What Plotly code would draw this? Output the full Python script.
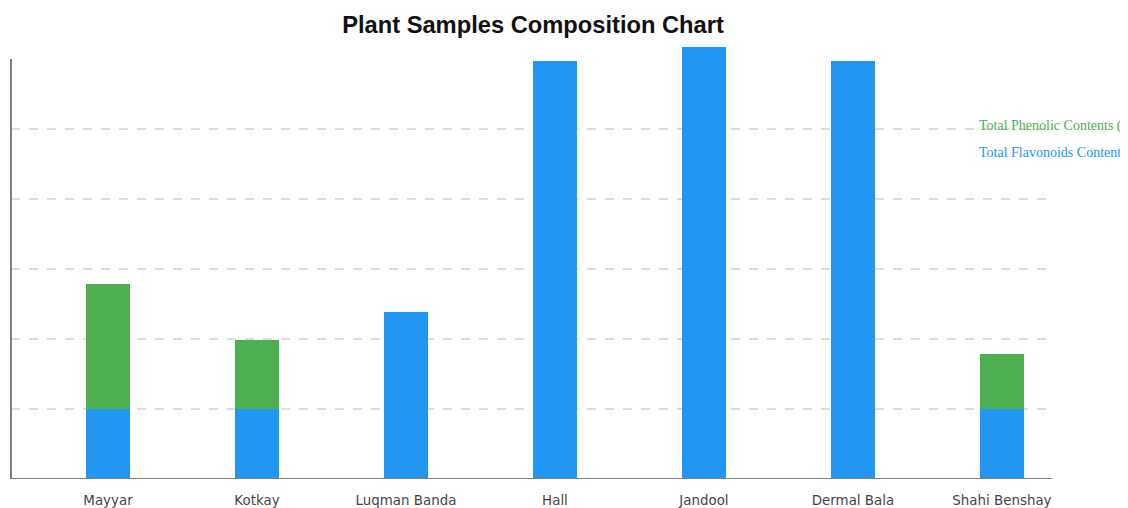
import plotly.graph_objects as go

categories = ["Mayyar", "Kotkay", "Luqman Banda", "Hall", "Jandool", "Dermal Bala", "Shahi Benshay"]
flavonoids = [1.0, 1.0, 2.39, 5.97, 6.17, 5.97, 1.0]
phenolic = [1.79, 0.99, 0, 0, 0, 0, 0.79]
series_names = ["Total Phenolic Contents (mg GAE/g)", "Total Flavonoids Contents (mg QE/g)"]

BLUE = "#2196F3"
GREEN = "#4CAF50"

# the page has an 8px body margin
OFF = 8
W, H = 1128 - OFF, 508 - OFF
L, R, T, B = 11 - OFF, W - (1052 - OFF), 45 - OFF, H - (479 - OFF)
pw, ph = W - L - R, H - T - B


def px_to_paper(px, py):
    return (px - OFF - L) / pw, 1 - (py - OFF - T) / ph


fig = go.Figure()
fig.add_trace(go.Bar(x=categories, y=flavonoids, name=series_names[1],
                     marker=dict(color=BLUE, line=dict(width=0)), width=0.3, showlegend=False))
fig.add_trace(go.Bar(x=categories, y=phenolic, name=series_names[0],
                     marker=dict(color=GREEN, line=dict(width=0)), width=0.3, showlegend=False))

# axis lines
fig.add_shape(type="line", xref="paper", yref="y", x0=0, x1=0, y0=0, y1=6,
              line=dict(color="#808080", width=2), layer="above")
fig.add_shape(type="line", xref="paper", yref="y", x0=0, x1=1, y0=0, y1=0,
              line=dict(color="#808080", width=2), layer="above")

# legend-like labels (colored text only)
for name, color, (lx, ly) in [(series_names[0], GREEN, (977, 126)), (series_names[1], BLUE, (977, 153))]:
    ax, ay = px_to_paper(lx, ly)
    fig.add_annotation(x=ax, y=ay, xref="paper", yref="paper", text=name, showarrow=False,
                       xanchor="left", yanchor="middle",
                       font=dict(family="Liberation Serif", size=14, color=color))

fig.update_layout(
    barmode="stack",
    width=W, height=H,
    margin=dict(l=L, r=R, t=T, b=B, pad=0, autoexpand=False),
    paper_bgcolor="white", plot_bgcolor="white",
    title=dict(text="<b>Plant Samples Composition Chart</b>", x=(533 - OFF) / W, xanchor="center",
               y=1 - (25 - OFF) / H, yanchor="middle",
               font=dict(family="Liberation Sans", size=23.7, color="#111")),
    font=dict(family="DejaVu Sans", size=13.4, color="#444"),
    showlegend=False,
)
fig.update_xaxes(range=[-0.651, 6.336], showgrid=False, showline=False, zeroline=False, automargin=False,
                 ticks="outside", ticklen=9, tickcolor="rgba(0,0,0,0)",
                 tickfont=dict(family="DejaVu Sans", size=13.4, color="#444"))
fig.update_yaxes(range=[0, 6.2], tickvals=[1, 2, 3, 4, 5], showticklabels=False, showgrid=True,
                 automargin=False, gridcolor="#dddddd", griddash="dash", gridwidth=2,
                 zeroline=False, showline=False)

fig.write_html("out.html")
